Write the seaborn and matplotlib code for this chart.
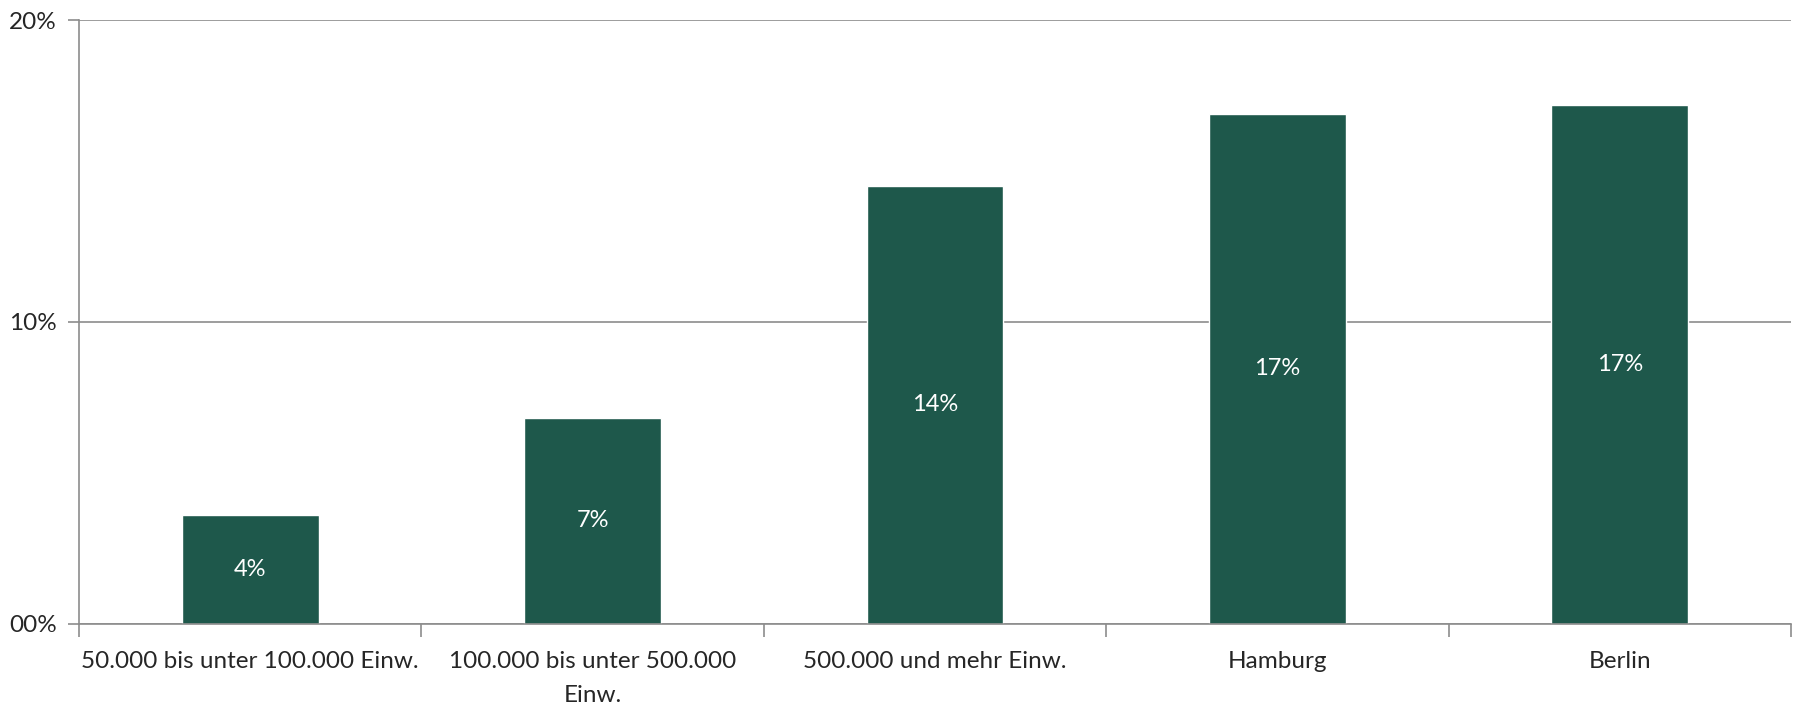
import matplotlib
matplotlib.use("Agg")
import matplotlib.pyplot as plt
import seaborn as sns
import pandas as pd
from matplotlib.ticker import FixedLocator

categories = ["50.000 bis unter 100.000 Einw.", "100.000 bis unter 500.000\nEinw.",
              "500.000 und mehr Einw.", "Hamburg", "Berlin"]
values = [3.6, 6.8, 14.5, 16.9, 17.2]
bar_labels = ["4%", "7%", "14%", "17%", "17%"]
y_ticks = [0, 10, 20]
y_tick_labels = ["00%", "10%", "20%"]

sns.set_theme(style="white")
plt.rcParams['font.family'] = ['Lato', 'DejaVu Sans']

df = pd.DataFrame({"cat": categories, "val": values})

fig = plt.figure(figsize=(17.96, 7.07), dpi=100)
ax = fig.add_axes([0.044, 0.118, 0.9532, 0.8537])

sns.barplot(data=df, x="cat", y="val", color="#1E584B", saturation=1, width=0.4, ax=ax)

for p, lab in zip(ax.patches, bar_labels):
    ax.text(p.get_x() + p.get_width() / 2, p.get_height() / 2, lab,
            ha="center", va="center", color="white", fontsize=17)

ax.set_xlim(-0.5, 4.5)
ax.set_ylim(0, 20)
ax.set_yticks(y_ticks)
ax.set_yticklabels(y_tick_labels, fontsize=17.5)
ax.yaxis.grid(True, color="#8c8c8c", linewidth=1.2)
ax.set_axisbelow(True)
ax.set_xlabel("")
ax.set_ylabel("")

ax.tick_params(axis="x", which="major", length=0, labelsize=17.5, pad=20)
for t in ax.get_xticklabels():
    t.set_linespacing(1.75)
ax.xaxis.set_minor_locator(FixedLocator([-0.5, 0.5, 1.5, 2.5, 3.5, 4.5]))
ax.tick_params(axis="x", which="minor", length=9, width=1.2, color="#8c8c8c", bottom=True)
ax.tick_params(axis="y", which="major", length=8, width=1.2, color="#8c8c8c", left=True, pad=8)

for s in ["top", "right"]:
    ax.spines[s].set_visible(False)
for s in ["left", "bottom"]:
    ax.spines[s].set_color("#8c8c8c")
    ax.spines[s].set_linewidth(1.2)

fig.savefig("out.png", dpi=100)
